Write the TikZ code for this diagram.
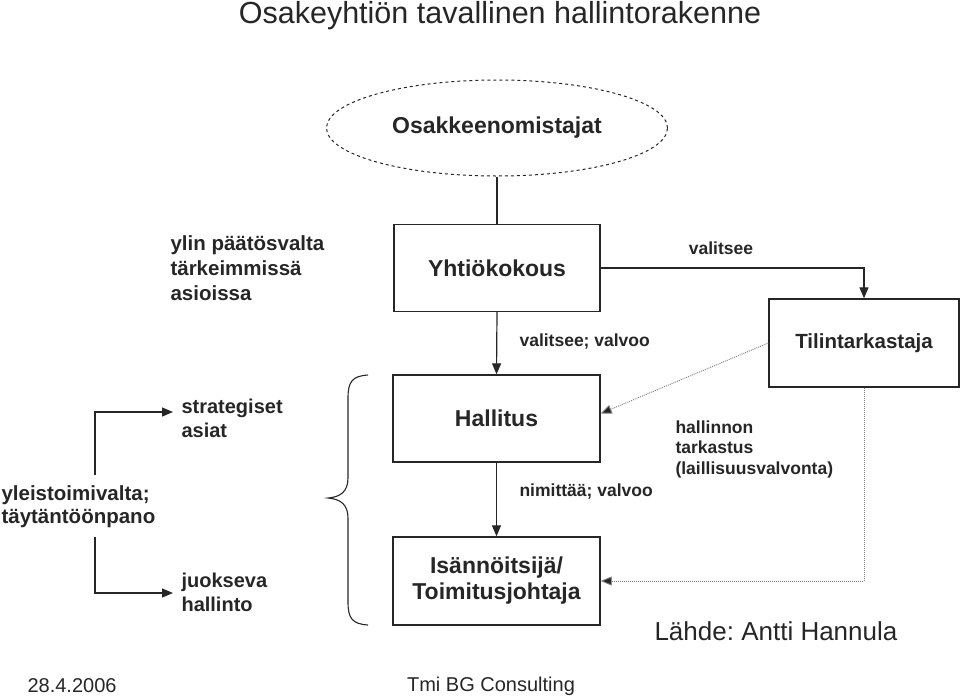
\documentclass[tikz,border=0pt]{standalone}
\usepackage{fontspec}
\setmainfont{Liberation Sans}
\usetikzlibrary{arrows.meta,calc,shapes.geometric}
\definecolor{ink}{HTML}{262626}
\frenchspacing
\begin{document}
\begin{tikzpicture}[x=1pt,y=-1pt,
  every node/.style={text=ink},
  fbig/.style={font=\fontsize{23}{26}\selectfont\bfseries},
  flab/.style={font=\fontsize{20.5}{25}\selectfont\bfseries},
  fmid/.style={font=\fontsize{17.5}{24}\selectfont\bfseries},
  fsm/.style={font=\fontsize{17.5}{20.5}\selectfont\bfseries},
  boxn/.style={draw=ink,line width=1.4,minimum width=206,minimum height=87,align=center,fbig},
  conn/.style={draw=ink,line width=1.2},
  arr/.style={conn,-{Triangle[length=11,width=9]}},
  dotarr/.style={draw=gray,line width=0.9,dash pattern=on 1pt off 1pt,-{Triangle[length=11,width=9,fill=ink]}}
]
\useasboundingbox (0,0) rectangle (960,697);
% title
\node[font=\fontsize{30.5}{36}\selectfont,inner sep=0pt] (title) at (500,16) {Osakeyhtiön tavallinen hallintorakenne};
% ellipse
\node[draw=ink,ellipse,dashed,line width=1.0,minimum width=341,minimum height=96,fbig] (own) at (497,128) {Osakkeenomistajat};
% boxes
\node[boxn] (yk) at (497,268) {Yhtiökokous};
\node[boxn,minimum width=190,minimum height=88,font=\fontsize{20.5}{25}\selectfont\bfseries] (tt) at (864,343) {Tilintarkastaja};
\node[boxn,minimum width=207] (hall) at (496.5,418.5) {Hallitus};
\node[boxn,minimum width=207,minimum height=88] (ceo) at (496.5,581) {Isännöitsijä/\\Toimitusjohtaja};
% labels
\node[flab,align=left,anchor=west] (ylin) at (167,268) {ylin päätösvalta\\tärkeimmissä\\asioissa};
\node[fmid,anchor=center] (val) at (721,248) {valitsee};
\node[fmid,anchor=west] (vv) at (516,342) {valitsee; valvoo};
\node[fmid,anchor=west] (nv) at (516,492) {nimittää; valvoo};
\node[fsm,align=left,anchor=west] (hk) at (672,449) {hallinnon\\tarkastus\\(laillisuusvalvonta)};
\node[flab,align=left,anchor=west,font=\fontsize{20.5}{23}\selectfont\bfseries] (yt) at (-2,507) {yleistoimivalta;\\täytäntöönpano};
\node[flab,align=left,anchor=west,font=\fontsize{20}{24}\selectfont\bfseries] (sa) at (178,418) {strategiset\\asiat};
\node[flab,align=left,anchor=west,font=\fontsize{20}{24}\selectfont\bfseries] (jh) at (178,592) {juokseva\\hallinto};
\node[font=\fontsize{26}{30}\selectfont,anchor=west] (src) at (651,631) {Lähde: Antti Hannula};
\node[font=\fontsize{20}{24}\selectfont,anchor=west] (date) at (24,686) {28.4.2006};
\node[font=\fontsize{20}{24}\selectfont] (tmi) at (491,686) {Tmi BG Consulting};
% connectors
\draw[conn] (own.south) -- (yk.north);
\draw[arr] (yk.east) -| (tt.north);
\draw[arr] (yk.south) -- (hall.north);
\draw[arr] (hall.south) -- (ceo.north);
\draw[dotarr] (tt.west) -- ($(hall.east)+(0,-5)$);
\draw[dotarr] (tt.south) |- (ceo.east);
% left arrows
\coordinate (u0) at (95,475);
\coordinate (d0) at (95,537);
\draw[arr] (u0) |- ($(sa.west)+(-5,-6)$);
\draw[arr] (d0) |- ($(jh.west)+(-5,1)$);
% brace
\draw[ink,line width=1.1] (368,375) .. controls (352,376) and (348,382) .. (348,398)
  -- (348,478) .. controls (348,492) and (340,497) .. (328,498)
  .. controls (340,499) and (348,504) .. (348,518)
  -- (348,602) .. controls (348,618) and (352,624) .. (368,625);
\end{tikzpicture}
\end{document}
